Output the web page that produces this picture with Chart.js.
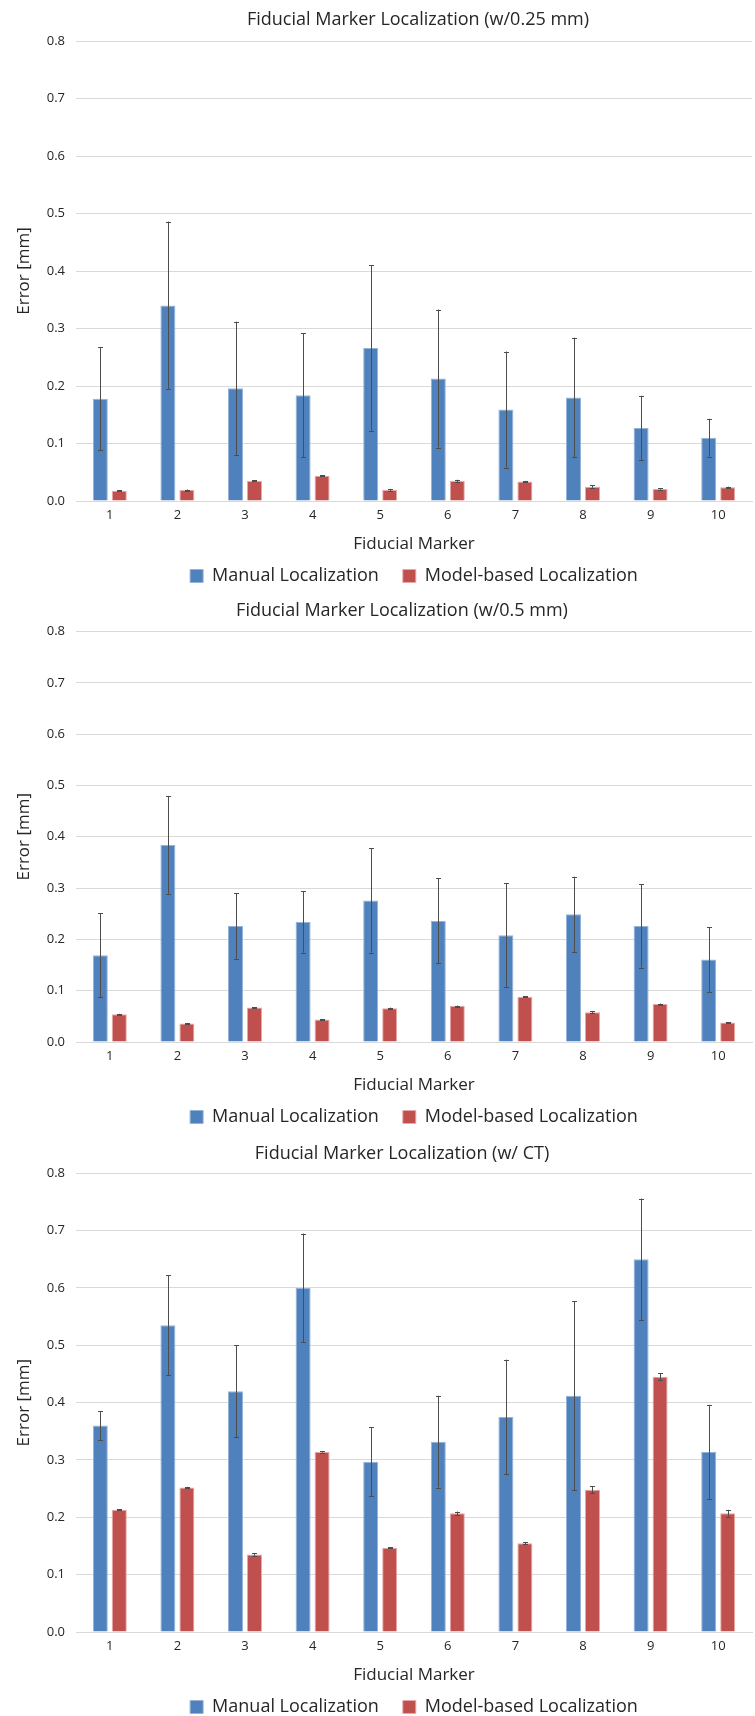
<!DOCTYPE html>
<html><head><meta charset="utf-8">
<script src="https://cdn.jsdelivr.net/npm/chart.js@4.4.0/dist/chart.umd.min.js"></script>
<style>
html,body{margin:0;padding:0;background:#fff;overflow:hidden;width:755px;height:1716px;}
.c{position:absolute;left:0;width:755px;}
</style></head><body>
<div class="c" style="top:0;height:595px"><canvas id="c1"></canvas></div>
<div class="c" style="top:593px;height:543px"><canvas id="c2"></canvas></div>
<div class="c" style="top:1135px;height:591px"><canvas id="c3"></canvas></div>
<script>
const markers = ['1','2','3','4','5','6','7','8','9','10'];
const seriesNames = ['Manual Localization', 'Model-based Localization'];
const yMin = 0, yMax = 0.8, yStep = 0.1;

const titles = [
  'Fiducial Marker Localization (w/0.25 mm)',
  'Fiducial Marker Localization (w/0.5 mm)',
  'Fiducial Marker Localization (w/ CT)'
];

// Chart 1: w/0.25 mm
const manual025    = [0.178, 0.340, 0.196, 0.184, 0.266, 0.213, 0.159, 0.180, 0.127, 0.110];
const manual025Err = [0.090, 0.146, 0.116, 0.108, 0.144, 0.120, 0.101, 0.104, 0.056, 0.033];
const model025     = [0.018, 0.019, 0.035, 0.044, 0.019, 0.035, 0.034, 0.025, 0.021, 0.024];
const model025Err  = [0.001, 0.001, 0.001, 0.001, 0.002, 0.002, 0.001, 0.002, 0.001, 0.001];

// Chart 2: w/0.5 mm
const manual05    = [0.169, 0.384, 0.226, 0.234, 0.276, 0.236, 0.208, 0.249, 0.226, 0.161];
const manual05Err = [0.082, 0.095, 0.064, 0.060, 0.102, 0.083, 0.101, 0.073, 0.081, 0.063];
const model05     = [0.054, 0.036, 0.067, 0.044, 0.066, 0.070, 0.088, 0.058, 0.074, 0.038];
const model05Err  = [0.001, 0.001, 0.001, 0.001, 0.001, 0.001, 0.001, 0.002, 0.001, 0.001];

// Chart 3: w/ CT
const manualCT    = [0.360, 0.535, 0.420, 0.600, 0.297, 0.332, 0.375, 0.412, 0.650, 0.314];
const manualCTErr = [0.025, 0.087, 0.080, 0.095, 0.060, 0.080, 0.100, 0.165, 0.106, 0.082];
const modelCT     = [0.213, 0.252, 0.135, 0.314, 0.147, 0.207, 0.155, 0.248, 0.445, 0.207];
const modelCTErr  = [0.001, 0.001, 0.002, 0.001, 0.001, 0.003, 0.002, 0.006, 0.006, 0.006];

const FONT = '"Open Sans", "Noto Sans", sans-serif';
const TXT = '#262626';

const errorBars = {
  id: 'errorBars',
  afterDatasetsDraw(chart) {
    const ctx = chart.ctx;
    const ys = chart.scales.y;
    chart.data.datasets.forEach((ds, i) => {
      const meta = chart.getDatasetMeta(i);
      if (meta.hidden || !ds.errors) return;
      meta.data.forEach((bar, j) => {
        const v = ds.data[j], e = ds.errors[j];
        const x = Math.round(bar.x) + 0.5;
        const yt = ys.getPixelForValue(v + e);
        const yb = ys.getPixelForValue(v - e);
        ctx.save();
        ctx.strokeStyle = '#4d4d4d';
        ctx.lineWidth = 1;
        ctx.beginPath();
        ctx.moveTo(x, yt); ctx.lineTo(x, yb);
        ctx.moveTo(x - 2.5, Math.round(yt) + 0.5); ctx.lineTo(x + 2.5, Math.round(yt) + 0.5);
        ctx.moveTo(x - 2.5, Math.round(yb) + 0.5); ctx.lineTo(x + 2.5, Math.round(yb) + 0.5);
        ctx.stroke();
        ctx.restore();
      });
    });
  }
};

// centre the title and legend over the plot area rather than the whole canvas
const shiftBoxes = {
  id: 'shiftBoxes',
  afterLayout(chart, args, opts) {
    if (chart.titleBlock && opts.titleLeft != null) chart.titleBlock.left = opts.titleLeft;
    if (chart.legend && opts.legendLeft != null) chart.legend.left = opts.legendLeft;
  }
};

function makeChart(id, title, manual, manualErr, model, modelErr, tPadTop, tPadBot, titleLeft) {
  new Chart(document.getElementById(id), {
    type: 'bar',
    data: {
      labels: markers,
      datasets: [
        { label: seriesNames[0], data: manual, errors: manualErr,
          backgroundColor: '#4F81BD', borderColor: '#95B3D7', borderWidth: 1,
          categoryPercentage: 0.562, barPercentage: 0.79 },
        { label: seriesNames[1], data: model, errors: modelErr,
          backgroundColor: '#C0504D', borderColor: '#E6A9A7', borderWidth: 1,
          categoryPercentage: 0.562, barPercentage: 0.79 }
      ]
    },
    options: {
      responsive: true,
      maintainAspectRatio: false,
      animation: false,
      layout: { padding: { left: 0, right: 3, top: 0, bottom: 0 } },
      plugins: {
        shiftBoxes: { titleLeft: titleLeft, legendLeft: 76 },
        title: { display: true, text: title, color: TXT,
          font: { family: FONT, size: 18, weight: 'normal', lineHeight: 1.2 },
          padding: { top: tPadTop, bottom: tPadBot } },
        legend: { position: 'bottom',
          labels: { color: TXT, font: { family: FONT, size: 18 }, boxWidth: 13, boxHeight: 13, padding: 24 } },
        tooltip: { enabled: false }
      },
      scales: {
        x: {
          grid: { display: false, drawTicks: false },
          border: { display: true, color: '#D9D9D9', width: 1 },
          ticks: { color: TXT, font: { family: FONT, size: 13 }, padding: 6, maxRotation: 0 },
          title: { display: true, text: 'Fiducial Marker', color: TXT,
            font: { family: FONT, size: 17, lineHeight: 1.2 }, padding: { top: 5.5, bottom: -11.5 } }
        },
        y: {
          min: yMin, max: yMax,
          afterFit(scale) { scale.width = 76; },
          grid: { color: '#D9D9D9', lineWidth: 1, drawTicks: false },
          border: { display: false },
          ticks: { stepSize: yStep, color: TXT, font: { family: FONT, size: 13 }, padding: 11,
            callback: v => Number(v).toFixed(1) },
          title: { display: true, text: 'Error [mm]', color: TXT,
            font: { family: FONT, size: 17, lineHeight: 1.2 }, padding: { top: 14, bottom: 0 } }
        }
      }
    },
    plugins: [errorBars, shiftBoxes]
  });
}

makeChart('c1', titles[0], manual025, manual025Err, model025, model025Err, 9.2, 10.2, 84);
makeChart('c2', titles[1], manual05, manual05Err, model05, model05Err, 7.2, 9.7, 52);
makeChart('c3', titles[2], manualCT, manualCTErr, modelCT, modelCTErr, 8.2, 8.5, 52);
</script>
</body></html>
